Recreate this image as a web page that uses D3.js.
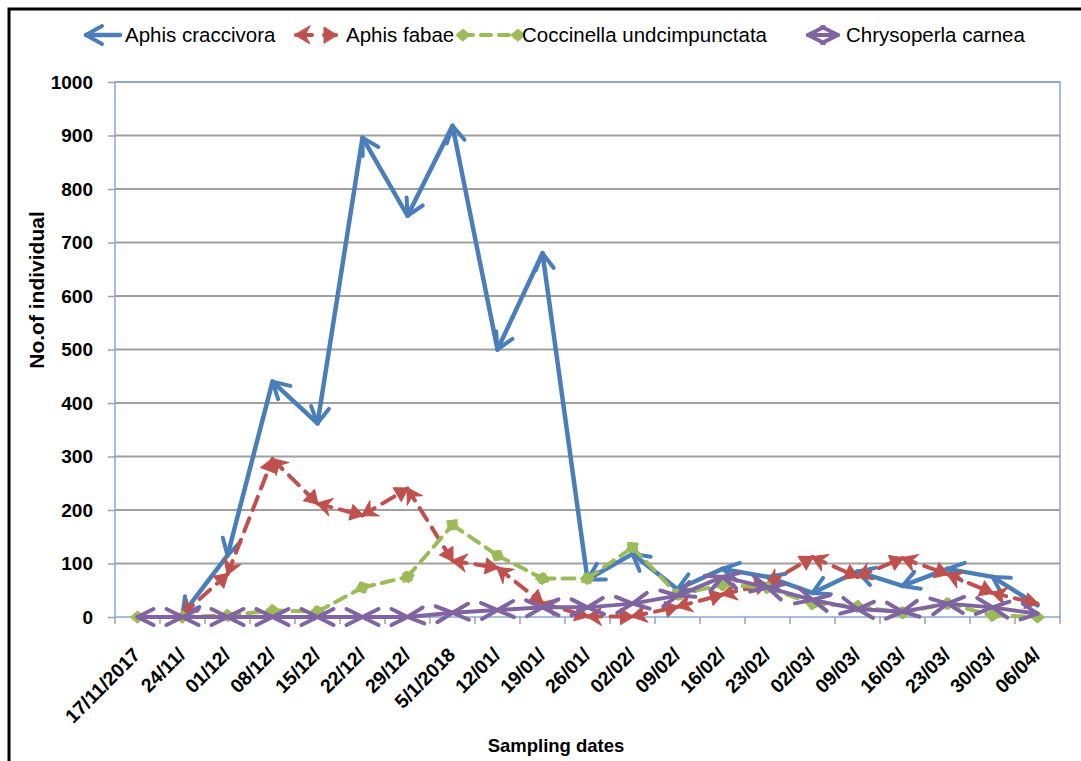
<!DOCTYPE html>
<html>
<head>
<meta charset="utf-8">
<script src="https://cdn.jsdelivr.net/npm/d3@7"></script>
<style>
  body { margin: 0; background: #fff; }
  svg { display: block; font-family: "Liberation Sans", Arial, sans-serif; }
</style>
</head>
<body>
<div id="chart"></div>
<script>
// Sampling dates (x categories)
const dates = ["17/11/2017", "24/11/", "01/12/", "08/12/", "15/12/", "22/12/", "29/12/", "5/1/2018",
  "12/01/", "19/01/", "26/01/", "02/02/", "09/02/", "16/02/", "23/02/", "02/03/", "09/03/",
  "16/03/", "23/03/", "30/03/", "06/04/"];

// Counts per series
const aphisCraccivora = [null, 5, 115, 440, 362, 896, 750, 918, 500, 680, 70, 118, 52, 90, 75, 45, 85, 58, 90, 75, 22];
const aphisFabae = [null, 5, 80, 295, 212, 190, 240, 105, 92, 26, 1, 1, 19, 42, 62, 112, 75, 110, 80, 45, 25];
const coccinella = [0, 0, 3, 12, 10, 55, 75, 172, 115, 72, 72, 130, 42, 60, 55, 25, 20, 8, 25, 3, 0];
const chrysoperla = [0, 0, 0, 0, 0, 0, 0, 8, 13, 18, 18, 25, 40, 75, 55, 32, 15, 10, 25, 18, 6];

const yTicks = [0, 100, 200, 300, 400, 500, 600, 700, 800, 900, 1000];

const W = 1081, H = 761;
const plot = { left: 115, right: 1060, top: 82, bottom: 617 };

const svg = d3.select("#chart").append("svg")
  .attr("width", W)
  .attr("height", H);

// marker definitions (Excel style begin / end arrows)
const defs = svg.append("defs");
function marker(id, path, color, filled, orient) {
  defs.append("marker")
    .attr("id", id)
    .attr("markerUnits", "userSpaceOnUse")
    .attr("markerWidth", 30).attr("markerHeight", 30)
    .attr("refX", 0).attr("refY", 0)
    .attr("orient", orient)
    .style("overflow", "visible")
    .append("path")
    .attr("d", path)
    .attr("fill", filled ? color : "none")
    .attr("stroke", color)
    .attr("stroke-width", filled ? 1 : 4)
    .attr("stroke-linecap", "round")
    .attr("stroke-linejoin", "round");
}
marker("blueStart", "M-16,-9L0,0L-16,9", "#4A7EBB", false, "auto-start-reverse");
marker("redStart", "M1,0L-14,-9L-9,0L-14,9Z", "#C0504D", true, "auto-start-reverse");
marker("redEnd", "M1,0L-12,-8L-12,8Z", "#C0504D", true, "auto");
marker("greenDia", "M-7,0L0,-6L7,0L0,6Z", "#9BBB59", true, "auto");
marker("purpleStart", "M-16,-8L0,0L-16,8", "#8064A2", false, "auto-start-reverse");
marker("purpleEnd", "M-16,-8L0,0L-16,8", "#8064A2", false, "auto");

// outer frame
svg.append("path")
  .attr("d", `M9,${H}V9H${W}`)
  .attr("fill", "none")
  .attr("stroke", "#000")
  .attr("stroke-width", 3);

const x = d3.scaleBand().domain(dates).range([plot.left, plot.right]).padding(0);
const cx = d => x(d) + x.bandwidth() / 2;
const y = d3.scaleLinear().domain([0, 1000]).range([plot.bottom, plot.top]);

// gridlines
svg.append("g")
  .selectAll("line")
  .data(yTicks.filter(t => t > 0))
  .join("line")
  .attr("x1", plot.left).attr("x2", plot.right)
  .attr("y1", d => y(d)).attr("y2", d => y(d))
  .attr("stroke", "#a0a0a0")
  .attr("stroke-width", 2);

// plot area border
svg.append("rect")
  .attr("x", plot.left).attr("y", plot.top)
  .attr("width", plot.right - plot.left).attr("height", plot.bottom - plot.top)
  .attr("fill", "none")
  .attr("stroke", "#86A8D6")
  .attr("stroke-width", 1.5);

// y axis
const yAxis = svg.append("g")
  .attr("transform", `translate(${plot.left},0)`)
  .call(d3.axisLeft(y).tickValues(yTicks).tickFormat(d3.format("d")).tickSize(7).tickPadding(15));
yAxis.select(".domain").remove();
yAxis.selectAll("line").attr("stroke", "#a0a0a0").attr("stroke-width", 1.5);
yAxis.selectAll("text")
  .attr("font-family", "'Liberation Sans', Arial, sans-serif")
  .attr("font-size", 19)
  .attr("font-weight", "bold")
  .attr("fill", "#000");

// x ticks at category boundaries
const bounds = dates.map(d => x(d)).concat([plot.right]);
svg.append("g")
  .selectAll("line")
  .data(bounds)
  .join("line")
  .attr("x1", d => d).attr("x2", d => d)
  .attr("y1", plot.bottom).attr("y2", plot.bottom + 7)
  .attr("stroke", "#a0a0a0")
  .attr("stroke-width", 1.5);

// x tick labels, rotated
svg.append("g")
  .selectAll("text")
  .data(dates)
  .join("text")
  .attr("transform", d => `translate(${cx(d) + 4},${plot.bottom + 39}) rotate(-45)`)
  .attr("text-anchor", "end")
  .attr("font-size", 19.5)
  .attr("font-weight", "bold")
  .text(d => d);

// axis titles
svg.append("text")
  .attr("x", 556).attr("y", 752)
  .attr("text-anchor", "middle")
  .attr("font-size", 18.5)
  .attr("font-weight", "bold")
  .text("Sampling dates");

svg.append("text")
  .attr("transform", "translate(44,290) rotate(-90)")
  .attr("text-anchor", "middle")
  .attr("font-size", 21)
  .attr("font-weight", "bold")
  .text("No.of individual");

// series
const series = [
  { name: "Aphis craccivora", values: aphisCraccivora, color: "#4A7EBB", dash: null, start: "blueStart", end: null, w: 4.5 },
  { name: "Aphis fabae", values: aphisFabae, color: "#C0504D", dash: "14 9", start: "redStart", end: "redEnd", w: 4 },
  { name: "Coccinella undcimpunctata", values: coccinella, color: "#9BBB59", dash: "12 8", start: "greenDia", end: "greenDia", w: 4 },
  { name: "Chrysoperla carnea", values: chrysoperla, color: "#8064A2", dash: null, start: "purpleStart", end: "purpleEnd", w: 4 }
];

const line = d3.line().x(d => d[0]).y(d => d[1]);

series.forEach(s => {
  const segs = [];
  for (let i = 0; i < dates.length - 1; i++) {
    const a = s.values[i], b = s.values[i + 1];
    if (a == null || b == null) continue;
    segs.push([[cx(dates[i]), y(a)], [cx(dates[i + 1]), y(b)]]);
  }
  svg.append("g")
    .selectAll("path")
    .data(segs)
    .join("path")
    .attr("d", line)
    .attr("fill", "none")
    .attr("stroke", s.color)
    .attr("stroke-width", s.w)
    .attr("stroke-linecap", "round")
    .attr("stroke-dasharray", s.dash)
    .attr("marker-start", s.start ? `url(#${s.start})` : null)
    .attr("marker-end", s.end ? `url(#${s.end})` : null);
});

// legend
const legendItems = [
  { s: series[0], x1: 86, x2: 120, tx: 125 },
  { s: series[1], x1: 296, x2: 336, tx: 346 },
  { s: series[2], x1: 463, x2: 518, tx: 522 },
  { s: series[3], x1: 808, x2: 838, tx: 846 }
];
const legend = svg.append("g");
legendItems.forEach(it => {
  legend.append("path")
    .attr("d", line([[it.x1, 35], [it.x2, 35]]))
    .attr("stroke", it.s.color)
    .attr("stroke-width", it.s.w)
    .attr("stroke-linecap", "round")
    .attr("stroke-dasharray", it.s.dash ? (it.s.name === "Aphis fabae" ? "16 12" : "10 8") : null)
    .attr("marker-start", it.s.start ? `url(#${it.s.start})` : null)
    .attr("marker-end", it.s.end ? `url(#${it.s.end})` : null);
  legend.append("text")
    .attr("x", it.tx).attr("y", 42)
    .attr("font-size", 20.5)
    .text(it.s.name);
});
</script>
</body>
</html>
